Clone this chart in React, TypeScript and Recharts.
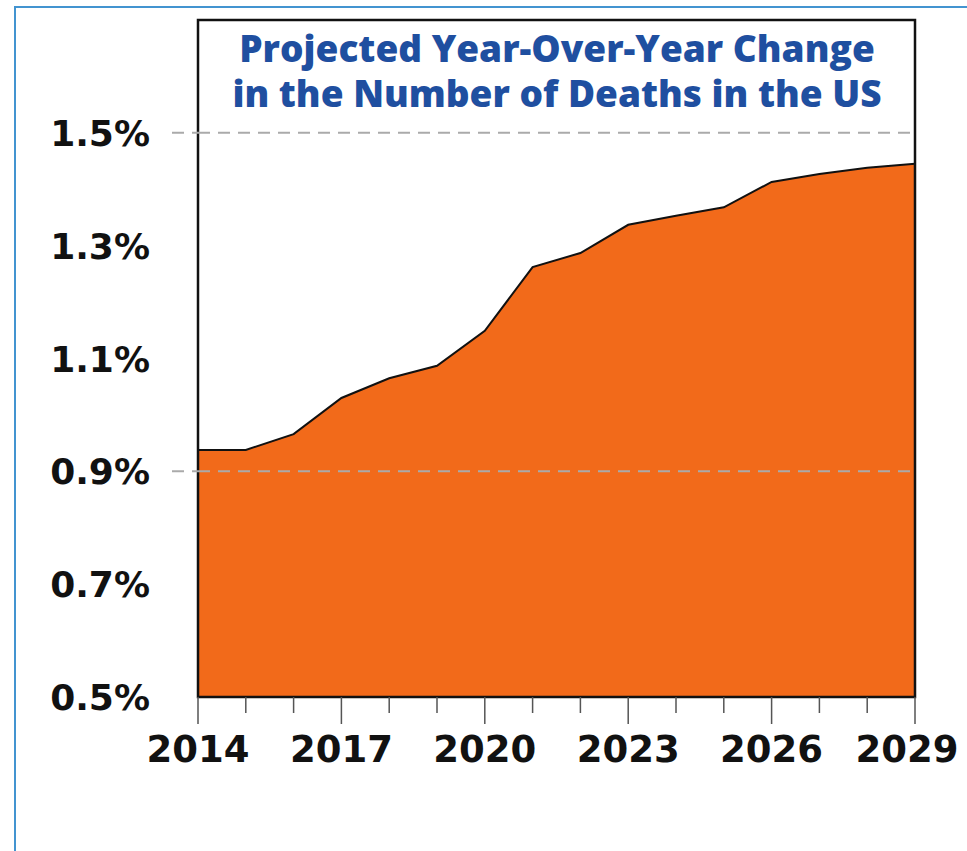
import React from 'react';
import { AreaChart, Area, XAxis, YAxis, ReferenceLine, ReferenceArea } from 'recharts';

const years = [2014, 2015, 2016, 2017, 2018, 2019, 2020, 2021, 2022, 2023, 2024, 2025, 2026, 2027, 2028, 2029];
const changePct = [0.938, 0.938, 0.966, 1.03, 1.065, 1.087, 1.149, 1.262, 1.287, 1.337, 1.353, 1.368, 1.413, 1.427, 1.438, 1.445];
const yTicks = [0.5, 0.7, 0.9, 1.1, 1.3, 1.5];
const gridValues = [0.9, 1.5];
const majorYears = [2014, 2017, 2020, 2023, 2026, 2029];
const titleLines = ['Projected Year-Over-Year Change', 'in the Number of Deaths in the US'];

const data = years.map((year, i) => ({ year, value: changePct[i] }));

const LABEL_FONT = '"DejaVu Sans", sans-serif';

const YTick = (props: any) => {
  const { x, y, payload } = props;
  const v = payload.value;
  return (
    <g>
      {gridValues.includes(v) && (
        <line x1={x - 26} x2={x} y1={y} y2={y} stroke="#aaa" strokeWidth={2} strokeDasharray="12 8" />
      )}
      <text x={x - 48} y={y} dy={13} textAnchor="end" fontFamily={LABEL_FONT} fontWeight={700} fontSize={36} fill="#111">
        {v.toFixed(1)}%
      </text>
    </g>
  );
};

const XTick = (props: any) => {
  const { x, y, payload } = props;
  const major = majorYears.includes(payload.value);
  const last = payload.value === years[years.length - 1];
  return (
    <g>
      <line x1={x} x2={x} y1={y} y2={y + (major ? 27 : 16)} stroke="#555" strokeWidth={1.5} />
      {major && (
        <text x={last ? x - 8 : x} y={y + 65} textAnchor="middle" fontFamily={LABEL_FONT} fontWeight={700} fontSize={37} fill="#111">
          {payload.value}
        </text>
      )}
    </g>
  );
};

export default function App() {
  return (
    <div>
      <div
        style={{
          position: 'absolute',
          left: 14,
          top: 6,
          width: 953,
          height: 845,
          boxSizing: 'border-box',
          borderTop: '2.5px solid #4394d0',
          borderLeft: '2.5px solid #4394d0',
        }}
      />
      <div style={{ position: 'absolute', left: 0, top: 0, width: 967, height: 851 }}>
        <AreaChart width={967} height={851} data={data} margin={{ top: 20, right: 52, left: 0, bottom: 0 }}>
          <XAxis
            dataKey="year"
            type="number"
            domain={[2014, 2029]}
            ticks={years}
            interval={0}
            axisLine={false}
            tickLine={false}
            tickSize={0}
            tickMargin={0}
            height={154}
            tick={<XTick />}
          />
          <YAxis
            type="number"
            domain={[0.5, 1.7]}
            ticks={yTicks}
            interval={0}
            axisLine={false}
            tickLine={false}
            tickSize={0}
            tickMargin={0}
            width={198}
            tick={<YTick />}
          />
          <Area
            type="linear"
            dataKey="value"
            stroke="#111"
            strokeWidth={2}
            fill="#f26a1a"
            fillOpacity={1}
            isAnimationActive={false}
          />
          {gridValues.map((v) => (
            <ReferenceLine key={v} y={v} stroke="#aaa" strokeWidth={2} strokeDasharray="12 8" />
          ))}
          <ReferenceArea x1={2014} x2={2029} y1={0.5} y2={1.7} fill="none" stroke="#111" strokeWidth={2.5} />
        </AreaChart>
      </div>
      <div
        style={{
          position: 'absolute',
          left: 200,
          top: 25,
          width: 714,
          textAlign: 'center',
          fontFamily: '"Open Sans", sans-serif',
          fontWeight: 800,
          fontSize: 37,
          lineHeight: '45px',
          color: '#1f4fa0',
        }}
      >
        {titleLines.map((t) => (
          <div key={t}>{t}</div>
        ))}
      </div>
    </div>
  );
}
